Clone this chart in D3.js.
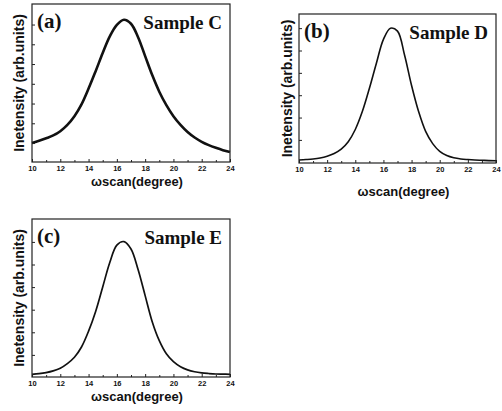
<!DOCTYPE html>
<html>
<head>
<meta charset="utf-8">
<script src="https://cdn.jsdelivr.net/npm/d3@7"></script>
<style>
  body { margin: 0; background: #fff; }
  svg { display: block; }
</style>
</head>
<body>
<div id="chart"></div>
<script>
// omega scan positions (degree), shared by the three samples
var omegaDeg = [10, 10.5, 11, 11.5, 12, 12.5, 13, 13.5, 14, 14.5, 15, 15.5, 16, 16.5,
  17, 17.5, 18, 18.5, 19, 19.5, 20, 20.5, 21, 21.5, 22, 22.5, 23, 23.5, 24];

// intensities (arb. units, frame height = 1)
var sampleC = [0.12, 0.134, 0.15, 0.168, 0.195, 0.235, 0.29, 0.365, 0.465, 0.575, 0.69, 0.795, 0.868, 0.9,
  0.875, 0.79, 0.67, 0.55, 0.445, 0.36, 0.29, 0.235, 0.19, 0.155, 0.128, 0.107, 0.09, 0.075, 0.063];
var sampleD = [0.02, 0.023, 0.027, 0.034, 0.046, 0.064, 0.093, 0.143, 0.225, 0.345, 0.5, 0.67, 0.83, 0.905,
  0.885, 0.725, 0.52, 0.345, 0.212, 0.13, 0.078, 0.05, 0.035, 0.027, 0.023, 0.02, 0.018, 0.016, 0.015];
var sampleE = [0.017, 0.021, 0.028, 0.039, 0.056, 0.085, 0.125, 0.19, 0.29, 0.415, 0.57, 0.725, 0.835, 0.857,
  0.81, 0.68, 0.515, 0.35, 0.23, 0.147, 0.097, 0.065, 0.045, 0.033, 0.026, 0.022, 0.019, 0.018, 0.017];

var xTicks = [10, 12, 14, 16, 18, 20, 22, 24];
var xMinorTicks = [11, 13, 15, 17, 19, 21, 23];
var yTicksC = [0.12, 0.245, 0.37, 0.495, 0.62, 0.745, 0.87];
var yTicksD = [0.155, 0.305, 0.455, 0.605, 0.755, 0.905];
var yTicksE = [0.14, 0.283, 0.426, 0.569, 0.712, 0.855];

var panelTags = ["(a)", "(b)", "(c)"];
var sampleNames = ["Sample C", "Sample D", "Sample E"];

var svg = d3.select("#chart").append("svg")
  .attr("width", 502)
  .attr("height", 411);

svg.append("rect").attr("width", 502).attr("height", 411).attr("fill", "#fff");

// frame boxes for each panel
var panels = [
  {left: 32, top: 4, right: 230, bottom: 162, values: sampleC, yTicks: yTicksC, lw: 2.6, ylabX: 19, xlabY: 186},
  {left: 299, top: 14, right: 496, bottom: 163, values: sampleD, yTicks: yTicksD, lw: 1.6, ylabX: 287, xlabY: 196},
  {left: 32, top: 219, right: 230, bottom: 377, values: sampleE, yTicks: yTicksE, lw: 1.7, ylabX: 19, xlabY: 401}
];

panels.forEach(function(p, i) {
  var w = p.right - p.left;
  var h = p.bottom - p.top;
  var g = svg.append("g").attr("transform", `translate(${p.left}, ${p.top})`);

  var x = d3.scaleLinear().domain([10, 24]).range([0, w]);
  var y = d3.scaleLinear().domain([0, 1]).range([h, 0]);

  // curve
  var line = d3.line()
    .x(function(d, j) { return x(omegaDeg[j]); })
    .y(function(d) { return y(d); })
    .curve(d3.curveCatmullRom.alpha(0.5));

  g.append("path")
    .datum(p.values)
    .attr("d", line)
    .attr("fill", "none")
    .attr("stroke", "#111")
    .attr("stroke-width", p.lw)
    .attr("stroke-linejoin", "round");

  // x axis
  var xAxis = g.append("g")
    .attr("transform", `translate(0, ${h})`)
    .call(d3.axisBottom(x).tickValues(xTicks).tickSizeInner(-3).tickSizeOuter(0).tickPadding(4));
  xAxis.select(".domain").remove();
  xAxis.selectAll("text")
    .attr("font-family", "Liberation Sans, Arial, sans-serif")
    .attr("font-weight", "bold")
    .attr("font-size", 7.5)
    .attr("fill", "#111");
  xAxis.selectAll("line").attr("stroke", "#222");

  var xMinor = g.append("g")
    .attr("transform", `translate(0, ${h})`)
    .call(d3.axisBottom(x).tickValues(xMinorTicks).tickSize(-2).tickFormat(""));
  xMinor.select(".domain").remove();
  xMinor.selectAll("line").attr("stroke", "#222");

  // y axis, ticks only
  var yAxis = g.append("g")
    .call(d3.axisLeft(y).tickValues(p.yTicks).tickSize(-3).tickFormat(""));
  yAxis.select(".domain").remove();
  yAxis.selectAll("line").attr("stroke", "#222");

  // frame
  g.append("rect")
    .attr("width", w)
    .attr("height", h)
    .attr("fill", "none")
    .attr("stroke", "#222")
    .attr("stroke-width", 1.2);

  // panel tag and sample name
  g.append("text")
    .attr("x", 5)
    .attr("y", 24)
    .attr("font-family", "Liberation Serif, Times New Roman, serif")
    .attr("font-weight", "bold")
    .attr("font-size", 21)
    .attr("fill", "#111")
    .text(panelTags[i]);

  g.append("text")
    .attr("x", w - 8)
    .attr("y", 25)
    .attr("text-anchor", "end")
    .attr("font-family", "Liberation Serif, Times New Roman, serif")
    .attr("font-weight", "bold")
    .attr("font-size", 19)
    .attr("fill", "#111")
    .text(sampleNames[i]);

  // axis titles
  svg.append("text")
    .attr("transform", `translate(${p.ylabX + 5}, ${p.top + h / 2}) rotate(-90)`)
    .attr("text-anchor", "middle")
    .attr("font-family", "Liberation Sans, Arial, sans-serif")
    .attr("font-weight", "bold")
    .attr("font-size", 14)
    .attr("fill", "#111")
    .text("Inetensity (arb.units)");

  svg.append("text")
    .attr("x", p.left + w / 2 + 6)
    .attr("y", p.xlabY)
    .attr("text-anchor", "middle")
    .attr("font-family", "Liberation Sans, Arial, sans-serif")
    .attr("font-weight", "bold")
    .attr("font-size", 13)
    .attr("fill", "#111")
    .text("ωscan(degree)");
});
</script>
</body>
</html>
